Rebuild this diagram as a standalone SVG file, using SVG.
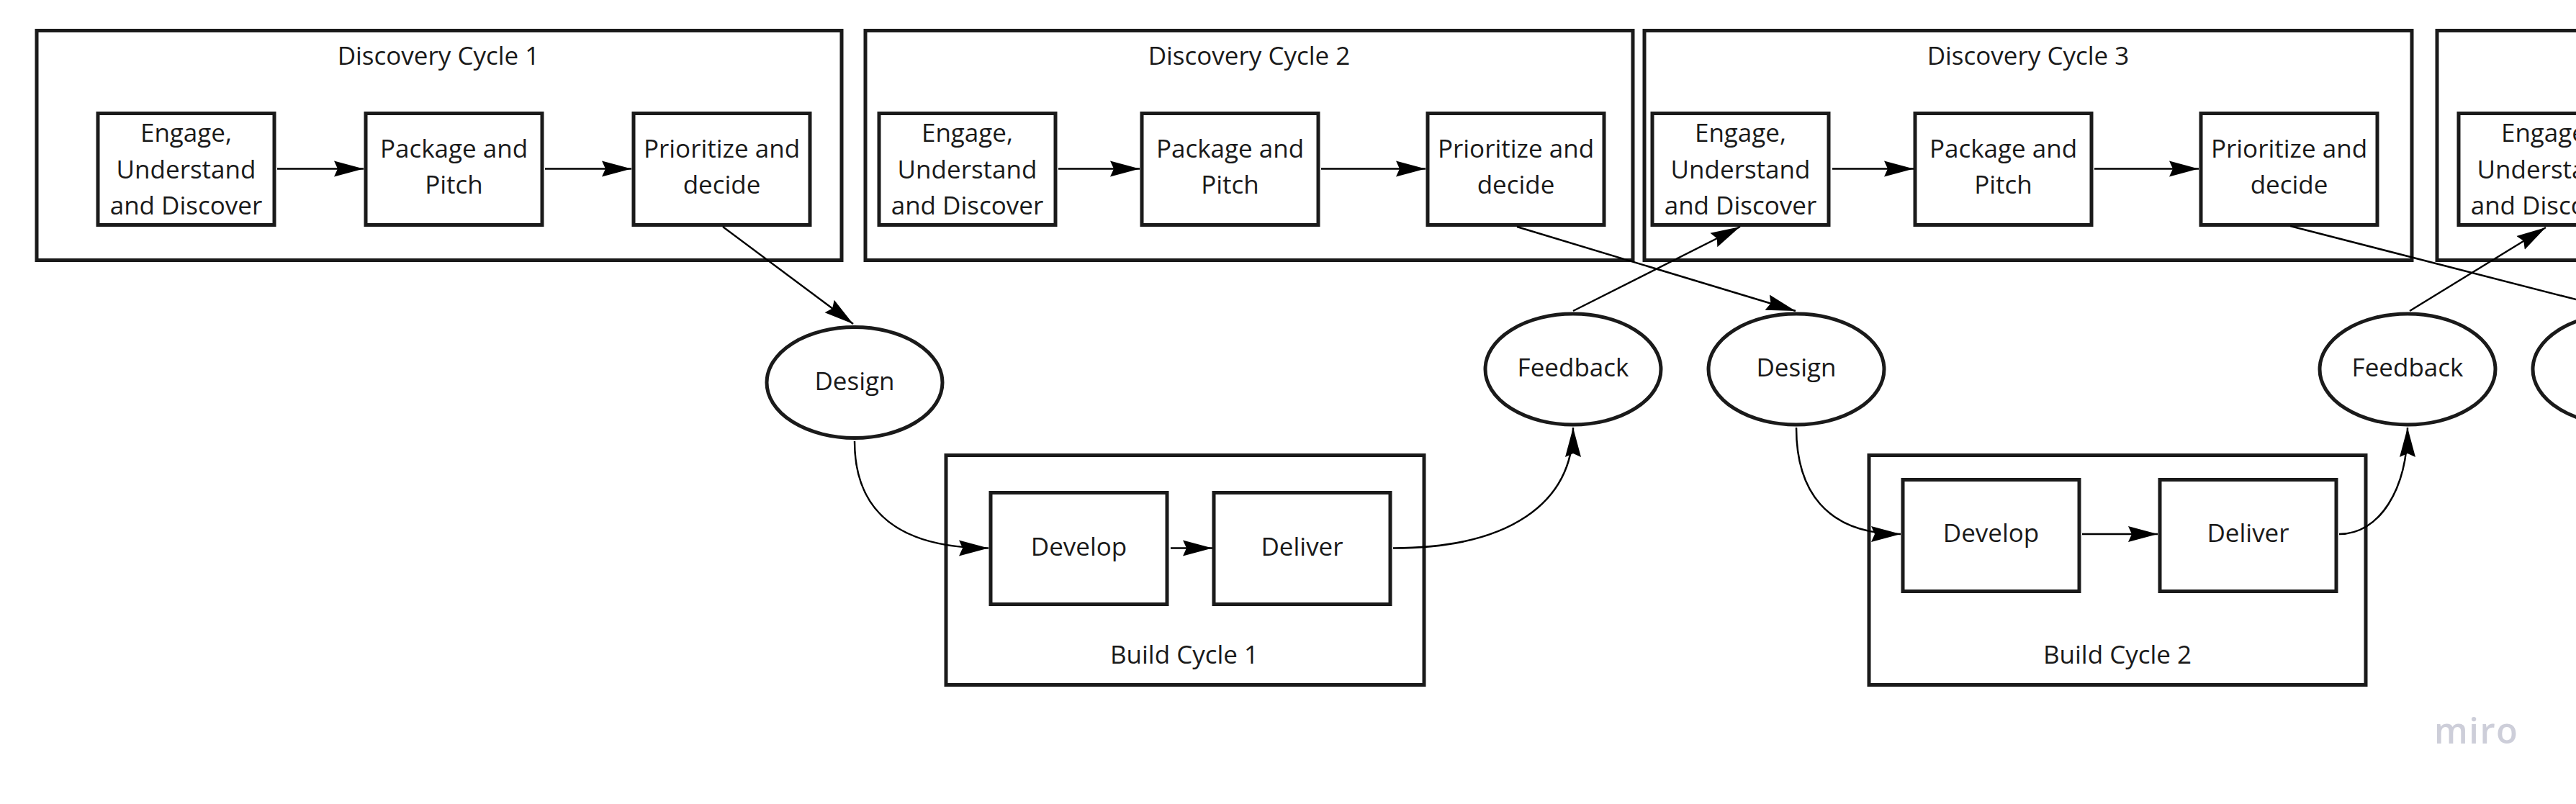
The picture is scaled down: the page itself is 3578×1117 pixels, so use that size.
<svg xmlns="http://www.w3.org/2000/svg" width="3578" height="1117" viewBox="0 0 3578 1117">
<style>
.b{fill:none;stroke:#1a1a1a;stroke-width:5}
.e{fill:#fff;stroke:#1a1a1a;stroke-width:5}
.t{font-family:"Open Sans","Noto Sans",sans-serif;font-size:35px;fill:#1a1a1a;text-anchor:middle}
.c{fill:none;stroke:#000;stroke-width:2.5;marker-end:url(#a)}
.p{fill:none;stroke:#000;stroke-width:2.5}
.m{font-family:"Open Sans","Noto Sans",sans-serif;font-size:49px;font-weight:600;fill:#cdced9;letter-spacing:1.5px}
</style>
<defs>
<marker id="a" markerUnits="userSpaceOnUse" markerWidth="42" markerHeight="24" refX="41" refY="12" orient="auto" viewBox="0 0 42 24">
<path d="M0 1 L41 12 L0 23 L5 12 Z" fill="#000"/>
</marker>
</defs>
<rect width="3578" height="1117" fill="#fff"/>
<g id="discovery-1"><rect class="b" x="51" y="42.500" width="1118" height="319"/><text class="t" x="609" y="90">Discovery Cycle 1</text></g>
<g id="discovery-2"><rect class="b" x="1202" y="42.500" width="1066" height="319"/><text class="t" x="1735" y="90">Discovery Cycle 2</text></g>
<g id="discovery-3"><rect class="b" x="2284" y="42.500" width="1066" height="319"/><text class="t" x="2817" y="90">Discovery Cycle 3</text></g>
<g id="discovery-4"><rect class="b" x="3385" y="42.500" width="1066" height="319"/></g>
<g id="build-1"><rect class="b" x="1314" y="632.500" width="664" height="319"/><text class="t" x="1645" y="922">Build Cycle 1</text></g>
<g id="build-2"><rect class="b" x="2596" y="632.500" width="690" height="319"/><text class="t" x="2941" y="922">Build Cycle 2</text></g>

<g id="engage-1"><rect class="b" x="136" y="157.500" width="245" height="155"/><text class="t" x="258.500" y="197">Engage,</text><text class="t" x="258.500" y="247.500">Understand</text><text class="t" x="258.500" y="298">and Discover</text></g>
<g id="package-1"><rect class="b" x="508" y="157.500" width="245" height="155"/><text class="t" x="630.500" y="219">Package and</text><text class="t" x="630.500" y="269">Pitch</text></g>
<g id="prioritize-1"><rect class="b" x="880" y="157.500" width="245" height="155"/><text class="t" x="1002.500" y="219">Prioritize and</text><text class="t" x="1002.500" y="269">decide</text></g>

<g id="engage-2"><rect class="b" x="1221" y="157.500" width="245" height="155"/><text class="t" x="1343.500" y="197">Engage,</text><text class="t" x="1343.500" y="247.500">Understand</text><text class="t" x="1343.500" y="298">and Discover</text></g>
<g id="package-2"><rect class="b" x="1586" y="157.500" width="245" height="155"/><text class="t" x="1708.500" y="219">Package and</text><text class="t" x="1708.500" y="269">Pitch</text></g>
<g id="prioritize-2"><rect class="b" x="1983" y="157.500" width="245" height="155"/><text class="t" x="2105.500" y="219">Prioritize and</text><text class="t" x="2105.500" y="269">decide</text></g>

<g id="engage-3"><rect class="b" x="2295" y="157.500" width="245" height="155"/><text class="t" x="2417.500" y="197">Engage,</text><text class="t" x="2417.500" y="247.500">Understand</text><text class="t" x="2417.500" y="298">and Discover</text></g>
<g id="package-3"><rect class="b" x="2660" y="157.500" width="245" height="155"/><text class="t" x="2782.500" y="219">Package and</text><text class="t" x="2782.500" y="269">Pitch</text></g>
<g id="prioritize-3"><rect class="b" x="3057" y="157.500" width="245" height="155"/><text class="t" x="3179.500" y="219">Prioritize and</text><text class="t" x="3179.500" y="269">decide</text></g>

<g id="engage-4"><rect class="b" x="3415" y="157.500" width="245" height="155"/><text class="t" x="3537.500" y="197">Engage,</text><text class="t" x="3537.500" y="247.500">Understand</text><text class="t" x="3537.500" y="298">and Discover</text></g>

<g id="develop-1"><rect class="b" x="1376" y="684.500" width="245" height="155"/><text class="t" x="1498.500" y="772">Develop</text></g>
<g id="deliver-1"><rect class="b" x="1686" y="684.500" width="245" height="155"/><text class="t" x="1808.500" y="772">Deliver</text></g>
<g id="develop-2"><rect class="b" x="2643" y="666.500" width="245" height="155"/><text class="t" x="2765.500" y="753">Develop</text></g>
<g id="deliver-2"><rect class="b" x="3000" y="666.500" width="245" height="155"/><text class="t" x="3122.500" y="753">Deliver</text></g>

<g id="design-1"><ellipse class="e" cx="1187" cy="531.500" rx="122" ry="77"/><text class="t" x="1187" y="542">Design</text></g>
<g id="feedback-1"><ellipse class="e" cx="2185" cy="513" rx="122" ry="77"/><text class="t" x="2185" y="523">Feedback</text></g>
<g id="design-2"><ellipse class="e" cx="2495" cy="513" rx="122" ry="77"/><text class="t" x="2495" y="523">Design</text></g>
<g id="feedback-2"><ellipse class="e" cx="3344" cy="513" rx="122" ry="77"/><text class="t" x="3344" y="523">Feedback</text></g>
<g id="design-3"><ellipse class="e" cx="3640" cy="513" rx="122" ry="77"/></g>

<g id="connectors">
<path class="c" d="M385 234.500H505"/>
<path class="c" d="M757 234.500H877"/>
<path class="c" d="M1470 234.500H1583"/>
<path class="c" d="M1835 234.500H1980"/>
<path class="c" d="M2545 234.500H2658"/>
<path class="c" d="M2909 234.500H3054"/>
<path class="c" d="M1004 315L1185 450"/>
<path class="c" d="M2107 315L2494 432"/>
<path class="c" d="M2185 432L2417 315"/>
<path class="p" d="M3181 314L3640 432"/>
<path class="c" d="M3347 432L3536 316"/>
<path class="c" d="M1187 613C1187 690 1225 761.500 1373 761.500"/>
<path class="c" d="M1626 761.500H1684"/>
<path class="c" d="M1935 761.500C2095 761.500 2185 700 2185 594"/>
<path class="c" d="M2495 594C2495 680 2535 742 2640 742"/>
<path class="c" d="M2892 742H2997"/>
<path class="c" d="M3249 742C3305 742 3344 680 3344 594"/>
</g>
<text class="m" x="3381" y="1033">miro</text>
</svg>
